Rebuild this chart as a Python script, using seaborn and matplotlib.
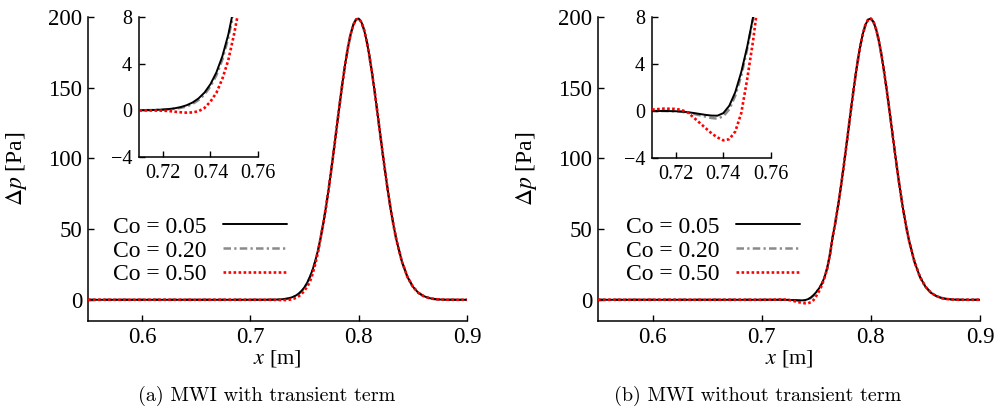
import numpy as np
import pandas as pd
import matplotlib
matplotlib.use("Agg")
import matplotlib.pyplot as plt
import seaborn as sns

# ---------------- data ----------------
x_onset = [0.55, 0.70, 0.705, 0.71, 0.715, 0.72, 0.7225, 0.725, 0.7275, 0.73,
           0.7325, 0.735, 0.7375, 0.74, 0.7425, 0.745, 0.7475, 0.75, 0.7525,
           0.755, 0.7575, 0.76, 0.7625]
x_peak = [0.765, 0.7675, 0.77, 0.7725, 0.775, 0.7775, 0.78, 0.7825, 0.785,
          0.7875, 0.79, 0.7925, 0.795, 0.7975, 0.80, 0.8025, 0.805, 0.8075,
          0.81, 0.8125, 0.815, 0.8175, 0.82, 0.8225, 0.825, 0.8275, 0.83,
          0.8325, 0.835, 0.84, 0.845, 0.85, 0.855, 0.86, 0.865, 0.87, 0.875,
          0.88, 0.89, 0.90]
dp_peak = [44.4, 54.8, 66.6, 79.6, 93.7, 108.5, 123.7, 138.8, 153.3, 166.6,
           178.2, 187.6, 194.4, 198.2, 198.9, 196.4, 190.9, 182.6, 172.0,
           159.5, 145.8, 131.2, 116.3, 101.6, 87.4, 74.2, 62.0, 51.3, 41.8,
           26.8, 16.2, 9.3, 5.0, 2.6, 1.2, 0.5, 0.2, 0.05, 0.0, 0.0]

# (a) MWI with transient term -- onset part of each curve
a_co005 = [0, 0, 0.002, 0.008, 0.023, 0.065, 0.108, 0.174, 0.277, 0.435, 0.67,
           1.02, 1.52, 2.24, 3.25, 4.63, 6.49, 8.96, 12.2, 16.3, 21.4, 27.7, 35.3]
a_co020 = [0, 0, 0.002, 0.006, 0.018, 0.05, 0.085, 0.14, 0.21, 0.33, 0.55,
           0.88, 1.35, 2.05, 3.0, 4.35, 6.2, 8.6, 11.8, 15.9, 21.0, 27.3, 35.0]
a_co050 = [0, 0, 0, 0, -0.01, -0.03, -0.06, -0.12, -0.17, -0.2, -0.18, -0.08,
           0.2, 0.75, 1.5, 2.7, 4.3, 6.6, 9.3, 12.8, 18.5, 25.5, 33.8]
# (b) MWI without transient term -- onset part of each curve
b_co005 = [0, 0, 0, 0, 0, -0.02, -0.05, -0.1, -0.17, -0.25, -0.33, -0.39,
           -0.40, -0.18, 0.45, 1.6, 3.3, 5.45, 8.0, 11.3, 15.8, 22.5, 32.0]
b_co020 = [0, 0, 0, 0, 0, -0.03, -0.07, -0.14, -0.24, -0.36, -0.48, -0.6,
           -0.65, -0.45, 0.15, 1.3, 3.0, 5.25, 7.9, 11.1, 15.6, 22.3, 31.8]
b_co050 = [0, 0.0, 0.05, 0.12, 0.2, 0.18, 0.08, -0.12, -0.55, -1.0, -1.45,
           -1.9, -2.25, -2.5, -2.4, -1.75, -0.2, 2.7, 6.0, 10.0, 15.5, 22.0, 31.5]

labels = ["Co = 0.05", "Co = 0.20", "Co = 0.50"]
captions = ["(a) MWI with transient term", "(b) MWI without transient term"]
main_yticks = [0, 50, 100, 150, 200]
main_xticks = [0.6, 0.7, 0.8, 0.9]
inset_yticks = [-4, 0, 4, 8]
inset_xticks = [0.72, 0.74, 0.76]

# ---------------- style ----------------
sns.set_theme(style="ticks")
plt.rcParams["font.family"] = ["Liberation Serif", "DejaVu Serif"]
plt.rcParams["mathtext.fontset"] = "stix"
plt.rcParams["axes.unicode_minus"] = True
plt.rcParams["text.color"] = "black"
plt.rcParams["axes.labelcolor"] = "black"
plt.rcParams["xtick.color"] = "black"
plt.rcParams["ytick.color"] = "black"

styles = [
    dict(color="black", linewidth=1.4, linestyle="-", zorder=3),
    dict(color="#8a8a8a", linewidth=1.8, linestyle=(0, (3.0, 1.3, 0.9, 1.3)), zorder=2),
    dict(color="#ff0000", linewidth=1.9, linestyle=(0, (1.0, 0.9)), zorder=4),
]


def make_df(series):
    frames = []
    for lab, onset in zip(labels, series):
        frames.append(pd.DataFrame({"x": list(x_onset) + list(x_peak),
                                    "dp": list(onset) + list(dp_peak),
                                    "case": lab}))
    return frames


def style_axes(ax, fs, pad):
    for s in ["top", "right"]:
        ax.spines[s].set_visible(False)
    for s in ["left", "bottom"]:
        ax.spines[s].set_linewidth(1.1)
        ax.spines[s].set_color("black")
    ax.tick_params(direction="in", length=4.5, width=1.0, colors="black",
                   labelsize=fs, pad=pad)
    ax.set_facecolor("white")
    ax.grid(False)


fig = plt.figure(figsize=(10.01, 4.13), dpi=100)
main_pos = [[0.0879, 0.2228, 0.3786, 0.736], [0.5974, 0.2228, 0.3816, 0.736]]
inset_pos = [[0.1389, 0.6199, 0.1189, 0.339], [0.6513, 0.6175, 0.1189, 0.3413]]
legend_x = [0.066, 0.073]
cap_x = [0.266, 0.757]
ylab_x = [-0.155, -0.154]

for k, series in enumerate([(a_co005, a_co020, a_co050),
                            (b_co005, b_co020, b_co050)]):
    frames = make_df(series)
    ax = fig.add_axes(main_pos[k])
    ins = fig.add_axes(inset_pos[k])
    for target in (ax, ins):
        for df, st in zip(frames, styles):
            sns.lineplot(data=df, x="x", y="dp", ax=target, estimator=None,
                         sort=False, label=df["case"].iloc[0], legend=False, **st)
    # main axes
    style_axes(ax, 16.5, 4)
    ax.set_xlim(0.55, 0.9)
    ax.set_ylim(-15, 200)
    ax.set_xticks(main_xticks)
    ax.set_xticklabels([f"{v:.1f}" for v in main_xticks])
    ax.set_yticks(main_yticks)
    ax.set_yticklabels([str(v) for v in main_yticks])
    ax.set_xlabel(r"$x$ [m]", fontsize=16)
    ax.set_ylabel(r"$\Delta p$ [Pa]", fontsize=17)
    ax.xaxis.set_label_coords(0.5, -0.088)
    ax.yaxis.set_label_coords(ylab_x[k], 0.5)
    handles = ax.get_lines()[:3]
    leg = ax.legend(handles, labels, loc="upper left",
                    bbox_to_anchor=(legend_x[k], 0.345), frameon=False,
                    markerfirst=False, fontsize=17, handlelength=2.7,
                    handletextpad=0.7, labelspacing=0.1, borderpad=0,
                    borderaxespad=0)
    for t in leg.get_texts():
        t.set_color("black")
    # inset
    style_axes(ins, 14.5, 5)
    ins.set_xlim(0.71, 0.76)
    ins.set_ylim(-4, 8)
    ins.set_xticks(inset_xticks)
    ins.set_xticklabels([f"{v:.2f}" for v in inset_xticks])
    ins.set_yticks(inset_yticks)
    ins.set_yticklabels([str(v).replace("-", "\u2212") for v in inset_yticks])
    ins.set_xlabel("")
    ins.set_ylabel("")
    ins.patch.set_alpha(0.0)
    # caption
    fig.text(cap_x[k], 1 - 396 / 413, captions[k], ha="center", va="center",
             fontsize=14.5, color="black", family=["cmr10", "DejaVu Serif"])

fig.savefig("out.png", dpi=100, facecolor="white")
